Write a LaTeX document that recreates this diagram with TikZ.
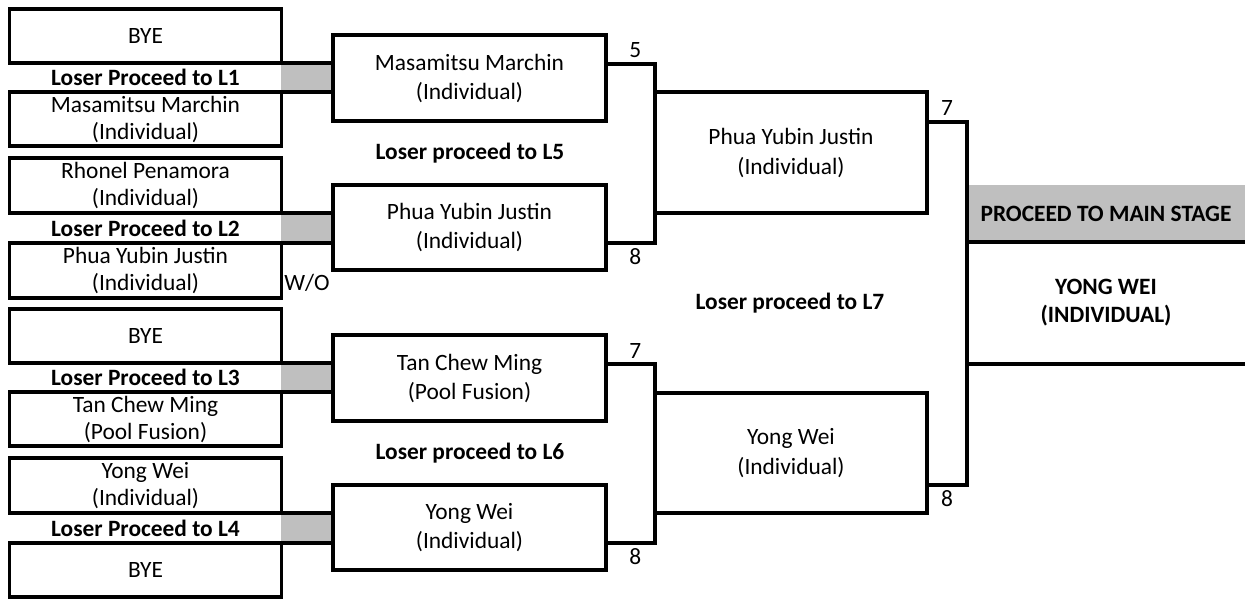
\documentclass[tikz,border=0pt]{standalone}
\usepackage{fontspec}
\setmainfont{Carlito}
\begin{document}
\begin{tikzpicture}[x=1pt,y=-1pt,line width=3.4pt,
  every node/.style={font=\fontsize{23.4pt}{27pt}\selectfont, align=center, inner sep=0pt, outer sep=0pt},
  player/.style={draw, minimum width=272pt, minimum height=54pt},
  match/.style={draw, minimum width=273pt, minimum height=86pt, font=\fontsize{23.4pt}{29pt}\selectfont},
  semi/.style={draw, minimum width=272pt, minimum height=121pt, font=\fontsize{23.4pt}{30pt}\selectfont},
  shade/.style={fill=lightgray, minimum width=52pt, minimum height=29pt},
  note/.style={font=\fontsize{23.4pt}{28pt}\selectfont\bfseries},
  score/.style={inner sep=6pt}]
\useasboundingbox (0,0) rectangle (1245,599);
\node[shade] (g1) at (307,77.5) {};
\node[shade] (g2) at (307,228) {};
\node[shade] (g3) at (307,377.5) {};
\node[shade] (g4) at (307,528) {};
\node[player] (p1) at (145.5,36) {BYE};
\node[player] (p2) at (145.5,119) {Masamitsu Marchin\\(Individual)};
\node[player,minimum height=55pt] (p3) at (145.5,185.5) {Rhonel Penamora\\(Individual)};
\node[player,minimum height=55pt] (p4) at (145.5,270.5) {Phua Yubin Justin\\(Individual)};
\node[player] (p5) at (145.5,336) {BYE};
\node[player] (p6) at (145.5,419) {Tan Chew Ming\\(Pool Fusion)};
\node[player,minimum height=55pt] (p7) at (145.5,485.5) {Yong Wei\\(Individual)};
\node[player] (p8) at (145.5,570) {BYE};
\node[note] (l1) at (145.5,77.5) {Loser Proceed to L1};
\node[note] (l2) at (145.5,228) {Loser Proceed to L2};
\node[note] (l3) at (145.5,377.5) {Loser Proceed to L3};
\node[note] (l4) at (145.5,528) {Loser Proceed to L4};
\node (wo) at (307,283) {W/O};
\node[match] (q1) at (469.5,78) {Masamitsu Marchin\\(Individual)};
\node[match,minimum height=85pt] (q2) at (469.5,227.5) {Phua Yubin Justin\\(Individual)};
\node[match] (q3) at (469.5,378) {Tan Chew Ming\\(Pool Fusion)};
\node[match,minimum height=85pt] (q4) at (469.5,527.5) {Yong Wei\\(Individual)};
\node[note] (l5) at (470,153) {Loser proceed to L5};
\node[note] (l6) at (470,453) {Loser proceed to L6};
\node[semi] (s1) at (791,152.5) {Phua Yubin Justin\\(Individual)};
\node[semi,minimum height=120pt] (s2) at (791,453) {Yong Wei\\(Individual)};
\node[note] (l7) at (790,303) {Loser proceed to L7};
\node[note,fill=lightgray,minimum width=278pt,minimum height=57pt] (stage) at (1106,213.5) {PROCEED TO MAIN STAGE};
\node[note,minimum width=278pt,minimum height=122pt] (champ) at (1106,303) {YONG WEI\\(INDIVIDUAL)};
\draw (p1.south east) -- (q1.west |- p1.south);
\draw (p2.north east) -- (q1.west |- p2.north);
\draw (p3.south east) -- (q2.west |- p3.south);
\draw (p4.north east) -- (q2.west |- p4.north);
\draw (p5.south east) -- (q3.west |- p5.south);
\draw (p6.north east) -- (q3.west |- p6.north);
\draw (p7.south east) -- (q4.west |- p7.south);
\draw (p8.north east) -- (q4.west |- p8.north);
\coordinate (k1) at (655,64);
\coordinate (k2) at (655,243);
\coordinate (k3) at (655,364);
\coordinate (k4) at (655,543);
\coordinate (k5) at (967,122);
\coordinate (k6) at (967,485);
\draw (q1.east |- k1) -- node[score,above,pos=0.6] {5} (k1) -- (k2) -- node[score,below,pos=0.4] {8} (q2.east |- k2);
\draw (q3.east |- k3) -- node[score,above,pos=0.6] {7} (k3) -- (k4) -- node[score,below,pos=0.4] {8} (q4.east |- k4);
\draw (s1.east |- k5) -- node[score,above] {7} (k5) -- (k6) -- node[score,below] {8} (s2.east |- k6);
\draw (champ.north west) -- (champ.north east);
\draw (champ.south west) -- (champ.south east);
\end{tikzpicture}
\end{document}
